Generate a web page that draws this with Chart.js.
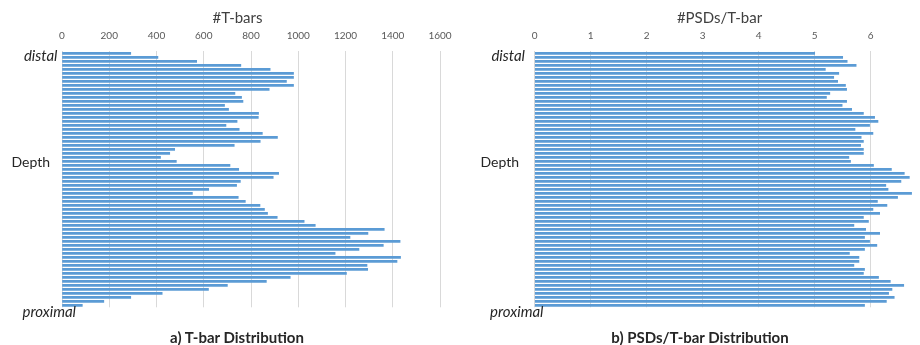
<!DOCTYPE html>
<html>
<head>
<meta charset="utf-8">
<script src="https://cdn.jsdelivr.net/npm/chart.js@4.4.0/dist/chart.umd.min.js"></script>
<style>
    html, body { margin: 0; padding: 0; background: #fff; }
    body {
        width: 920px; height: 345px; position: relative; overflow: hidden;
        font-family: Lato, "Open Sans", sans-serif; color: #262626;
    }
    .panel { position: absolute; top: 0; }
    .lbl { position: absolute; font-size: 14px; line-height: 1; white-space: nowrap; }
    .it { font-style: italic; font-size: 15px; }
    .ttl { position: absolute; font-size: 15px; line-height: 1; color: #404040; white-space: nowrap; text-align: center; }
    .cap { position: absolute; font-size: 15px; line-height: 1; font-weight: bold; white-space: nowrap; text-align: center; }
</style>
</head>
<body>
<div class="panel" style="left:0;width:470px;height:312px;"><canvas id="tbarChart"></canvas></div>
<div class="panel" style="left:470px;width:450px;height:312px;"><canvas id="psdChart"></canvas></div>

<div class="ttl" style="left:137.5px;width:200px;top:9.5px;">#T-bars</div>
<div class="lbl it" style="left:0;width:57.5px;text-align:right;top:48.3px;">distal</div>
<div class="lbl" style="left:0;width:50px;text-align:right;top:155px;">Depth</div>
<div class="lbl it" style="left:22.5px;top:303.7px;">proximal</div>
<div class="cap" style="left:117px;width:240px;top:329.5px;">a) T-bar Distribution</div>

<div class="ttl" style="left:619.5px;width:200px;top:9.5px;">#PSDs/T-bar</div>
<div class="lbl it" style="left:460px;width:65px;text-align:right;top:48.3px;">distal</div>
<div class="lbl" style="left:460px;width:59px;text-align:right;top:155px;">Depth</div>
<div class="lbl it" style="left:490px;top:303.7px;">proximal</div>
<div class="cap" style="left:560px;width:280px;top:329.5px;">b) PSDs/T-bar Distribution</div>

<script>
// depth bins, distal (top) to proximal (bottom)
const depthBins = Array.from({ length: 64 }, (_, i) => "bin " + (i + 1));

// number of T-bars per depth bin
const tbarCounts = [
    291, 406, 570, 757, 881, 980, 980, 950, 980, 877, 732, 760, 766, 688, 705, 832,
    831, 741, 694, 750, 848, 912, 839, 729, 477, 456, 417, 484, 711, 748, 917, 894,
    755, 739, 621, 552, 746, 776, 838, 857, 870, 911, 1025, 1072, 1364, 1295, 1219, 1431,
    1360, 1257, 1156, 1433, 1418, 1291, 1294, 1204, 966, 865, 700, 620, 424, 291, 177, 86
];

// mean PSDs per T-bar per depth bin
const psdsPerTbar = [
    5.00, 5.50, 5.58, 5.74, 5.19, 5.43, 5.34, 5.41, 5.55, 5.57, 5.27, 5.21, 5.57, 5.49, 5.66, 5.87,
    6.07, 6.13, 5.98, 5.72, 6.04, 5.83, 5.87, 5.82, 5.87, 5.87, 5.61, 5.64, 6.05, 6.37, 6.60, 6.69,
    6.54, 6.27, 6.31, 6.73, 6.48, 6.12, 6.29, 6.04, 6.16, 5.87, 5.96, 5.70, 5.91, 6.16, 5.89, 5.98,
    6.11, 5.89, 5.62, 5.79, 5.79, 5.70, 5.89, 5.87, 6.14, 6.35, 6.59, 6.38, 6.32, 6.42, 6.28, 5.89
];

const tbarTicks = { min: 0, max: 1600, step: 200 };
const psdTicks = { min: 0, max: 6.8, step: 1 };

const barBlue = "#5b9bd5";
const gridGrey = "#d9d9d9";
const tickGrey = "#595959";

function makeChart(canvasId, values, ticks, padLeft, padRight) {
    return new Chart(document.getElementById(canvasId), {
        type: "bar",
        data: {
            labels: depthBins,
            datasets: [{
                data: values,
                backgroundColor: barBlue,
                borderWidth: 0,
                barThickness: 2
            }]
        },
        options: {
            indexAxis: "y",
            responsive: true,
            maintainAspectRatio: false,
            animation: false,
            layout: {
                padding: { left: padLeft, right: padRight, top: 20.7, bottom: 4.7 }
            },
            plugins: {
                legend: { display: false },
                tooltip: { enabled: false }
            },
            scales: {
                x: {
                    position: "top",
                    min: ticks.min,
                    max: ticks.max,
                    ticks: {
                        stepSize: ticks.step,
                        includeBounds: false,
                        color: tickGrey,
                        font: { family: "Lato", size: 10 },
                        padding: 9.3,
                        maxRotation: 0,
                        callback: v => String(v)
                    },
                    grid: {
                        color: gridGrey,
                        lineWidth: 1,
                        drawTicks: false
                    },
                    border: { display: false }
                },
                y: {
                    display: false
                }
            }
        }
    });
}

makeChart("tbarChart", tbarCounts, tbarTicks, 62, 30);
makeChart("psdChart", psdsPerTbar, psdTicks, 64.7, 4.5);
</script>
</body>
</html>
